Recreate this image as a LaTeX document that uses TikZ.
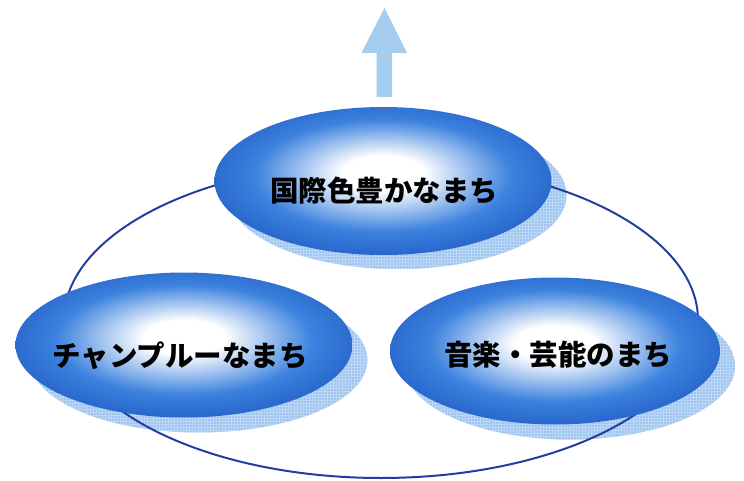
\documentclass[tikz,border=0pt]{standalone}
\usepackage{fontspec}
\newfontfamily\cjk{Noto Sans CJK JP}[BoldFont={Noto Sans CJK JP Black}]
\usetikzlibrary{shapes.geometric,patterns}
\definecolor{edgeblue}{RGB}{22,78,188}
\definecolor{midblue}{RGB}{60,130,222}
\definecolor{lineblue}{RGB}{35,62,160}
\definecolor{shadowblue}{RGB}{158,196,240}
\definecolor{shadowgrid}{RGB}{188,214,246}
\definecolor{arrowblue}{RGB}{165,205,240}
\pgfdeclareradialshading{blobshade}{\pgfpoint{0bp}{3bp}}{%
  color(0bp)=(white); color(6bp)=(white); color(19bp)=(midblue);
  color(33bp)=(edgeblue); color(50bp)=(edgeblue)}
\tikzset{
  blob/.style={ellipse, inner sep=0pt, shading=blobshade},
  shade box/.style={ellipse, inner sep=0pt, fill=shadowblue,
    postaction={pattern=grid, pattern color=shadowgrid}},
  label text/.style={font=\cjk\bfseries\fontsize{28.5pt}{32pt}\selectfont, text=black, inner sep=0pt},
  ring/.style={draw=lineblue, line width=2pt}
}
\begin{document}
\begin{tikzpicture}[x=1pt,y=-1pt]
\useasboundingbox (0,0) rectangle (744,481);
% shadows
\node[shade box, minimum width=337pt, minimum height=148pt] (topsh) at (398,195) {};
\node[shade box, minimum width=337pt, minimum height=145pt] (leftsh) at (199,360) {};
\node[shade box, minimum width=330pt, minimum height=147pt] (rightsh) at (570,366) {};
% big ring
\node[ring, ellipse, minimum width=634pt, minimum height=316pt, inner sep=0pt] (ring) at (381,320) {};
% main ellipses
\node[blob, minimum width=337pt, minimum height=148pt] (top) at (383,181) {};
\node[blob, minimum width=337pt, minimum height=145pt] (left) at (184,345) {};
\node[blob, minimum width=330pt, minimum height=147pt] (right) at (555,351) {};
% texts
\node[label text] (toptext) at (384,191) {国際色豊かなまち};
\node[label text] (lefttext) at (180,356) {チャンプルーなまち};
\node[label text] (righttext) at (558,355) {音楽・芸能のまち};
% arrow
\coordinate (tip) at (384.5,8);
\fill[arrowblue] (top.north) ++(-6.5,-10) coordinate (sl) -- ++(0,-44) -- ++(-15,0) -- (tip) -- ++(22.5,45) -- ++(-15,0) -- ++(0,44) -- cycle;
\end{tikzpicture}
\end{document}
